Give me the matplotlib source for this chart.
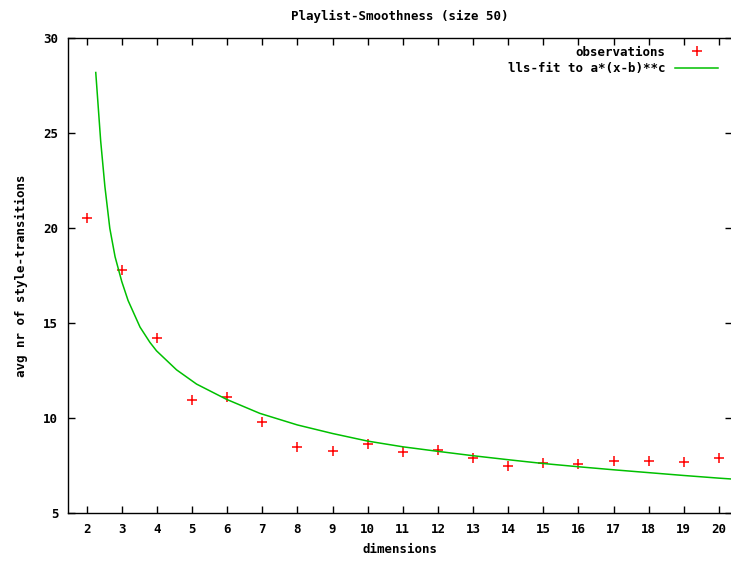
import matplotlib
matplotlib.use("Agg")
import matplotlib.pyplot as plt

# observaciones
dims = [2, 3, 4, 5, 6, 7, 8, 9, 10, 11, 12, 13, 14, 15, 16, 17, 18, 19, 20]
avg_transitions = [20.53, 17.8, 14.24, 10.95, 11.14, 9.82, 8.51, 8.29, 8.65, 8.23,
                   8.35, 7.9, 7.51, 7.63, 7.58, 7.77, 7.77, 7.72, 7.9]

# curva ajustada
fit_x = [2.26, 2.40, 2.52, 2.66, 2.81, 3.0, 3.18, 3.52, 3.80, 3.99, 4.56, 5.13, 5.98,
         6.93, 8, 9, 10, 11, 12, 13, 14, 15, 16, 17, 18, 19, 20, 20.4]
fit_y = [28.2, 24.6, 22.2, 20.0, 18.5, 17.2, 16.2, 14.8, 14.0, 13.55, 12.55, 11.8,
         11.0, 10.26, 9.65, 9.2, 8.8, 8.5, 8.26, 8.03, 7.82, 7.62, 7.45, 7.29, 7.14,
         6.99, 6.85, 6.8]

plt.rcParams['font.family'] = ['DejaVu Sans Mono']
plt.rcParams['font.weight'] = 'bold'

fig = plt.figure(figsize=(7.31, 5.63), dpi=100)
ax = fig.add_axes([68 / 731, 1 - 513.3 / 563, 664 / 731, 475 / 563])

ax.plot(dims, avg_transitions, linestyle='none', marker='+', color='#ff0000',
        markersize=7, markeredgewidth=1.1, label='observations')
ax.plot(fit_x, fit_y, color='#00c000', linewidth=1.1, label='lls-fit to a*(x-b)**c')

ax.set_xlim(1.47, 20.37)
ax.set_ylim(5, 30)
ax.set_xticks(dims)
ax.set_yticks([5, 10, 15, 20, 25, 30])
ax.tick_params(direction='in', length=5, width=1, top=True, right=True,
               labelsize=9, pad=7)
for s in ax.spines.values():
    s.set_linewidth(1)
ax.spines['right'].set_visible(False)

ax.set_title("Playlist-Smoothness (size 50)", fontsize=9, fontweight='bold', pad=13)
ax.set_xlabel("dimensions", fontsize=9, fontweight='bold', labelpad=5)
ax.set_ylabel("avg nr of style-transitions", fontsize=9, fontweight='bold', labelpad=11)

ax.legend(loc='upper right', frameon=False, markerfirst=False, fontsize=9,
          handlelength=3.4, borderaxespad=0.2, labelspacing=0.25,
          bbox_to_anchor=(0.99, 1.0))

fig.savefig("out.png", dpi=100)
